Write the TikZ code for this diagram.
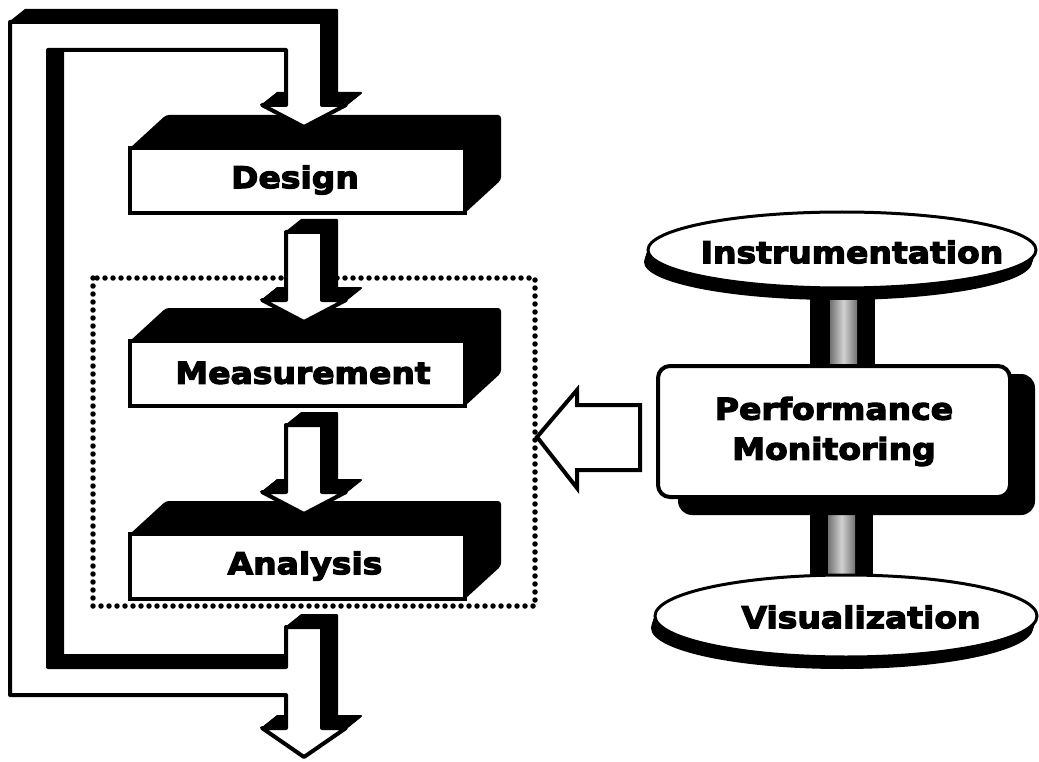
\documentclass[tikz,border=0pt]{standalone}
\usepackage{fontspec}
\newfontfamily\lblfont{DejaVu Sans}[BoldFeatures={FakeStretch=1.1, FakeBold=4}]
\usetikzlibrary{calc}

% solid 3D sweep of a closed path: the path is filled black at a series of
% offsets between (0,0) and (dx,dy)
\newcommand{\sweep}[3]{%
  \foreach \k in {0,...,12}{%
    \filldraw[black, line width=2pt, line join=round,
      shift={({#2*\k/12},{#3*\k/12})}] #1;
  }}

% big feedback band: leaves below Analysis, runs round the left and enters Design
\newcommand{\loopshape}{(286,627) -- (322,627) -- (322,728) -- (346,728) -- (304,757)
  -- (262,728) -- (286,728) -- (286,695) -- (10,695) -- (10,22) -- (322,22)
  -- (322,105) -- (346,105) -- (304,127) -- (262,105) -- (286,105) -- (286,50)
  -- (48,50) -- (48,667) -- (286,667) -- cycle}

% straight block arrow pointing down: top, barb line, tip
\newcommand{\downshape}[3]{(286,#1) -- (322,#1) -- (322,#2) -- (346,#2) -- (304,#3)
  -- (262,#2) -- (286,#2) -- cycle}

\tikzset{
  lbl/.style={font={\lblfont\bfseries\fontsize{30}{40}\selectfont}, inner sep=0pt},
  face/.style={draw=black, fill=white, line width=4pt},
  arrowface/.style={face, line join=round},
  slab/.style={minimum width=335pt, minimum height=65pt, inner sep=0pt, outer sep=0pt},
  stageside/.style={fill=black, rounded corners=3pt},
  ring/.style={draw=black, fill=white, line width=3pt},
  dotframe/.style={draw=black, line width=5.5pt, dash pattern=on 0pt off 8pt, line cap=round},
  stripe/.style={left color=black!55, right color=black!55, middle color=black!18},
}

\begin{document}
\begin{tikzpicture}[x=1pt, y=-1pt]
\useasboundingbox (0,0) rectangle (1039,762);
\fill[white] (0,0) rectangle (1039,762);

% dotted frame round Measurement and Analysis
\draw[dotframe] (93,278) rectangle (535,606);

% the three stages as solid slabs: outline of each front face
\node[slab] (design-slab)   at (297.5,180.5) {};
\node[slab] (measure-slab)  at (297.5,373.5) {};
\node[slab] (analysis-slab) at (297.5,566.5) {};
\foreach \s in {design-slab, measure-slab, analysis-slab}{
  \fill[stageside] (\s.north west) -- ++(36,-33) -- ($(\s.north east)+(36,-33)$)
    -- ($(\s.south east)+(36,-33)$) -- (\s.south east) -- (\s.north east) -- cycle;
  \draw[face] (\s.north west) rectangle (\s.south east);
}
\node[lbl] (design)   at (295,180) {Design};
\node[lbl] (measure)  at (303,373) {Measurement};
\node[lbl] (analysis) at (305,566) {Analysis};

% block arrows between the stages
\sweep{\downshape{232}{300}{322}}{15}{-12}
\draw[arrowface] \downshape{232}{300}{322};
\sweep{\downshape{425}{492}{514}}{15}{-12}
\draw[arrowface] \downshape{425}{492}{514};

% feedback band with the exit arrow
\sweep{\loopshape}{15}{-12}
\draw[arrowface] \loopshape;

% pillars joining the tool boxes
\fill[black] (810,280) rectangle (875,372);
\fill[stripe] (830,280) rectangle (857,372);
\fill[black] (810,500) rectangle (873,590);
\fill[stripe] (828,500) rectangle (855,590);

% Performance Monitoring box with its drop shadow
\fill[black, rounded corners=14pt] (678,374) rectangle (1035,515);
\node[face, lbl, rounded corners=12pt, minimum width=352pt, minimum height=131pt,
  align=center] (perfmon) at (834,431.5) {Performance\\Monitoring};

% Instrumentation disc
\foreach \k in {0,...,8}{
  \fill[black] (842-\k*0.5,250+\k*1.5) ellipse [x radius=194pt, y radius=38pt];
}
\draw[ring] (842,250) ellipse [x radius=194pt, y radius=38pt];
\node[lbl] (instr) at (852,252) {Instrumentation};

% Visualization disc
\foreach \k in {0,...,8}{
  \fill[black] (846-\k*0.5,616+\k*1.5) ellipse [x radius=191pt, y radius=41pt];
}
\draw[ring] (846,616) ellipse [x radius=191pt, y radius=41pt];
\node[lbl] (visual) at (861,617) {Visualization};

% hollow arrow from the monitor into the measured stages
\coordinate (tip) at (537,437);
\draw[face, line join=miter] (640,405) -- (577,405) -- (577,390) -- (tip)
  -- (577,488) -- (577,470) -- (640,470) -- cycle;
\end{tikzpicture}
\end{document}
